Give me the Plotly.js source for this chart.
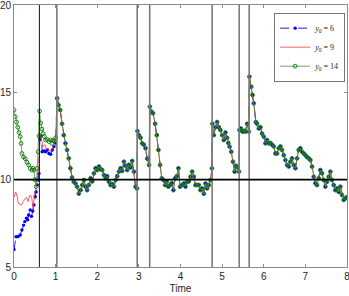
<!DOCTYPE html>
<html>
<head>
<meta charset="utf-8">
<script src="https://cdn.plot.ly/plotly-3.0.1.min.js"></script>
<style>html,body{margin:0;padding:0;background:#fff;}#chart{width:349px;height:296px;}</style>
</head>
<body>
<div id="chart"></div>
<script>
// ---- Data ----
// Shared trajectory after the second switching time (all three runs coincide)
const commonT = [1.035,1.07,1.11,1.155,1.195,1.235,1.275,1.315,1.355,1.395,1.435,1.475,1.516,1.556,1.6,1.64,1.68,1.72,1.757,1.8,1.84,1.88,1.92,1.96,2.0,2.04,2.08,2.12,2.16,2.2,2.24,2.28,2.32,2.36,2.4,2.44,2.48,2.52,2.56,2.6,2.64,2.68,2.72,2.76,2.8,2.84,2.88,2.92,2.955,2.965,3.0,3.04,3.08,3.12,3.16,3.2,3.245,3.265,3.3,3.34,3.39,3.43,3.47,3.51,3.55,3.59,3.63,3.67,3.71,3.75,3.79,3.83,3.87,3.91,3.95,3.99,4.04,4.08,4.12,4.16,4.2,4.24,4.28,4.32,4.36,4.4,4.44,4.48,4.52,4.56,4.6,4.64,4.68,4.72,4.755,4.765,4.8,4.84,4.88,4.92,4.96,5.0,5.04,5.08,5.12,5.15,5.18,5.22,5.26,5.3,5.33,5.37,5.405,5.415,5.45,5.49,5.53,5.56,5.6,5.64,5.655,5.7,5.73,5.76,5.81,5.84,5.88,5.92,5.96,6.0,6.04,6.08,6.12,6.16,6.2,6.24,6.28,6.32,6.36,6.4,6.44,6.48,6.52,6.56,6.6,6.64,6.68,6.72,6.76,6.8,6.84,6.88,6.92,6.96,7.0,7.04,7.08,7.12,7.16,7.2,7.24,7.28,7.32,7.36,7.4,7.44,7.48,7.52,7.56,7.6,7.64,7.68,7.72,7.76,7.8,7.84,7.88,7.92,7.96,8.0];
const commonY = [14.66,14.27,13.99,13.2,12.55,12.08,11.7,11.22,10.65,10.13,9.88,9.79,9.6,9.2,9.4,9.69,9.98,9.6,9.4,9.7,10.08,9.9,10.36,10.65,10.55,10.75,10.6,10.55,10.27,10.08,10.2,9.88,9.69,9.75,9.6,9.98,10.2,10.46,10.65,10.5,11.03,10.8,10.55,10.85,10.7,11.07,10.46,9.6,9.5,12.78,12.55,12.4,12.08,12.0,11.8,11.2,10.84,14.18,13.9,13.8,13.2,12.55,11.7,10.84,10.08,9.98,9.69,9.9,9.6,9.7,9.8,9.4,10.08,10.2,10.65,9.6,9.7,9.78,9.6,9.87,9.9,10.17,10.46,10.17,9.69,9.7,9.69,9.4,9.5,9.2,9.78,9.5,9.69,9.98,10.65,13.2,12.55,13.0,13.3,13.0,12.84,12.55,12.27,12.7,12.4,12.1,11.89,11.6,11.03,10.46,10.8,10.7,10.46,12.84,12.93,12.75,12.8,12.75,13.2,12.75,15.9,15.32,14.85,14.37,13.3,13.2,12.93,13.0,12.64,12.46,12.08,12.27,12.08,12.1,12.0,11.9,11.5,11.5,11.8,11.9,11.7,11.4,11.12,10.84,10.75,11.03,11.22,10.84,10.65,11.22,11.7,11.8,11.6,11.5,11.4,11.3,11.22,11.12,10.75,10.17,9.79,9.69,10.08,10.55,10.36,9.98,9.6,9.88,10.17,10.46,9.98,9.69,9.4,9.5,9.3,9.6,9.12,8.84,8.93,9.0];

// Start of run y0 = 6
const blueT = [0,0.05,0.1,0.15,0.19,0.23,0.26,0.3,0.33,0.35,0.39,0.42,0.45,0.48,0.51,0.53,0.56,0.58,0.6,0.62,0.65,0.68,0.72,0.76,0.8,0.84,0.88,0.92,0.96,1.0];
const blueY = [6.0,6.73,6.75,6.83,7.12,7.4,7.6,7.79,7.7,7.98,8.26,7.9,8.2,8.55,9.02,9.3,9.7,9.98,10.36,12.3,12.5,11.6,11.65,11.6,11.7,11.5,11.45,11.7,11.9,12.1];

// Start of run y0 = 9
const redT = [0,0.04,0.08,0.1,0.14,0.18,0.22,0.26,0.3,0.34,0.38,0.4,0.43,0.46,0.49,0.52,0.55,0.58,0.6,0.62,0.66,0.7,0.74,0.78,0.82,0.86,0.9,0.94,0.98,1.02];
const redY = [9.0,9.3,9.0,8.64,8.6,8.55,8.75,8.9,9.0,8.75,9.1,9.1,8.9,8.26,9.2,9.4,10.0,10.6,10.8,12.7,12.3,11.9,12.0,11.7,11.8,11.6,11.7,11.9,12.27,12.4];

// Start of run y0 = 14
const greenT = [0,0.03,0.06,0.09,0.12,0.15,0.17,0.19,0.23,0.27,0.31,0.35,0.39,0.43,0.46,0.48,0.5,0.53,0.56,0.58,0.6,0.615,0.64,0.67,0.7,0.73,0.76,0.8,0.84,0.88,0.91,0.94,0.97,1.0];
const greenY = [14.0,13.6,13.3,13.0,12.7,12.46,12.08,11.5,11.3,11.2,11.0,10.84,10.65,10.55,10.65,10.55,10.0,9.6,10.65,11.6,12.5,13.93,13.24,12.9,12.65,12.46,12.27,12.3,12.18,12.27,12.08,12.27,12.2,12.4];

const seriesNames = ['<i>y</i><sub>0</sub> = 6', '<i>y</i><sub>0</sub> = 9', '<i>y</i><sub>0</sub> = 14'];
const eventTimes = [0.61, 1.03, 2.96, 3.26, 4.76, 5.41, 5.65];
const refLevel = 10;
const xTicks = [0,1,2,3,4,5,6,7,8];
const yTicks = [5,10,15,20];

// ---- Build traces ----
const traces = [
  {
    x: blueT.concat(commonT), y: blueY.concat(commonY), name: seriesNames[0],
    type: 'scatter', mode: 'lines+markers',
    line: {color: '#0000ff', width: 0.9, dash: 'dash'},
    marker: {color: '#0000ff', size: 3.4, symbol: 'circle'}
  },
  {
    x: redT.concat(commonT), y: redY.concat(commonY), name: seriesNames[1],
    type: 'scatter', mode: 'lines',
    line: {color: '#ff3030', width: 0.8}
  },
  {
    x: greenT.concat(commonT), y: greenY.concat(commonY), name: seriesNames[2],
    type: 'scatter', mode: 'lines+markers',
    line: {color: '#4a8f3a', width: 0.8},
    marker: {color: '#0b7a0b', size: 3.8, symbol: 'circle-open', line: {width: 0.9}}
  }
];

const shapes = eventTimes.map((t, i) => ({
  type: 'line', xref: 'x', yref: 'paper', x0: t, x1: t, y0: 0, y1: 1,
  line: {color: i === 0 ? '#111' : '#7a7a7a', width: i === 0 ? 1 : 1.6}
}));
shapes.push({
  type: 'line', xref: 'paper', yref: 'y', x0: 0, x1: 1, y0: refLevel, y1: refLevel,
  line: {color: '#000', width: 1.6}
});

const axisCommon = {
  showline: true, mirror: 'ticks', linecolor: '#8a8a8a', linewidth: 1,
  ticks: 'inside', ticklen: 3, tickcolor: '#8a8a8a',
  showgrid: false, zeroline: false, ticklabeloverflow: 'allow',
  tickfont: {family: 'Liberation Sans, Arial, sans-serif', size: 10, color: '#262626'}
};

const layout = {
  width: 349, height: 296,
  margin: {l: 14, r: 2, t: 5, b: 29, pad: 0},
  paper_bgcolor: '#fff', plot_bgcolor: '#fff',
  showlegend: true,
  xaxis: Object.assign({}, axisCommon, {
    range: [0, 8], tickvals: xTicks, ticktext: xTicks.map(String),
    title: {text: 'Time', standoff: 3, font: {family: 'Liberation Sans, Arial, sans-serif', size: 10, color: '#262626'}}
  }),
  yaxis: Object.assign({}, axisCommon, {
    range: [5, 20], tickvals: yTicks, ticktext: yTicks.map(String)
  }),
  legend: {
    x: 0.995, xanchor: 'right', y: 0.97, yanchor: 'top',
    bgcolor: '#fff', bordercolor: '#555', borderwidth: 0.8,
    font: {family: 'Liberation Serif, serif', size: 8, color: '#222'},
    tracegroupgap: 0, itemwidth: 30
  },
  shapes: shapes
};

Plotly.newPlot('chart', traces, layout, {displayModeBar: false, staticPlot: true});
</script>
</body>
</html>
